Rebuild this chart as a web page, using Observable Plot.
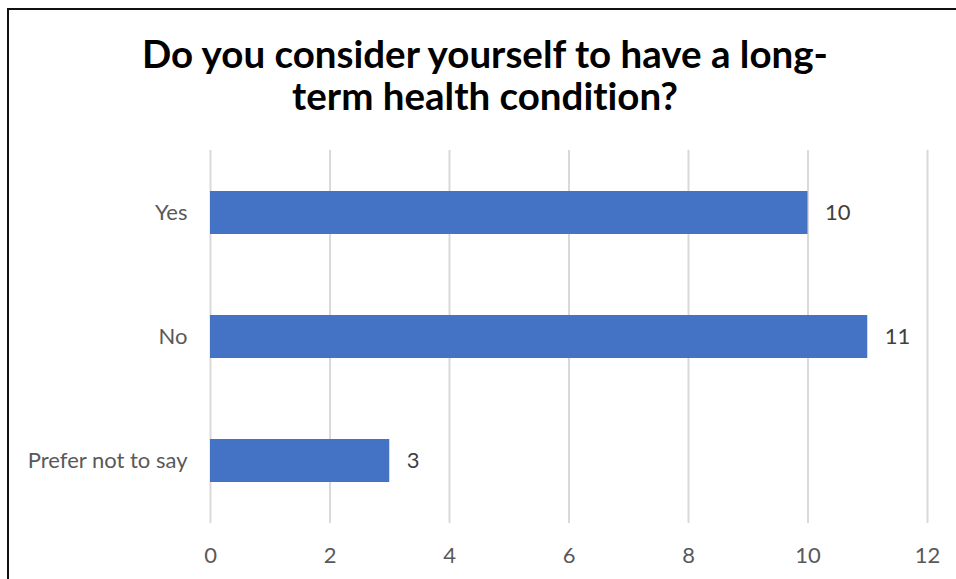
<!DOCTYPE html>
<html>
<head>
<meta charset="utf-8">
<script src="https://cdn.jsdelivr.net/npm/d3@7"></script>
<script src="https://cdn.jsdelivr.net/npm/@observablehq/plot@0.6"></script>
<style>
  html, body { margin: 0; padding: 0; background: #fff; overflow: hidden; }
  #wrap { position: relative; width: 956px; height: 579px; overflow: hidden; }
  #frame { position: absolute; left: 7px; top: 8px; width: 1000px; height: 700px;
           border-left: 2px solid #111; border-top: 2px solid #111; box-sizing: border-box; }
  #title { position: absolute; left: 0; top: 32px; width: 970px; text-align: center;
           font-family: Lato, "Open Sans", sans-serif; font-weight: bold; font-size: 38.5px;
           line-height: 42px; color: #000; font-variant-ligatures: none; }
  #chart { position: absolute; left: 0; top: 140px; }
</style>
</head>
<body>
<div id="wrap">
  <div id="frame"></div>
  <div id="title">Do you consider yourself to have a long-<br>term health condition?</div>
  <div id="chart"></div>
</div>
<script>
const categories = ["Yes", "No", "Prefer not to say"];
const counts = [10, 11, 3];
const xTicks = [0, 2, 4, 6, 8, 10, 12];

const data = categories.map((c, i) => ({category: c, value: counts[i]}));

const plot = Plot.plot({
  width: 956,
  height: 439,
  marginTop: 10,
  marginBottom: 56,
  marginLeft: 210,
  marginRight: 29,
  style: {fontFamily: "Lato, 'Open Sans', sans-serif", fontSize: "22px", color: "#595959", background: "transparent"},
  x: {domain: [0, 12], ticks: xTicks, label: null, tickSize: 0, tickPadding: 24},
  y: {domain: categories, label: null, tickSize: 0, tickPadding: 23, paddingInner: 0.65, paddingOuter: 0.325, align: 0.5},
  marks: [
    Plot.gridX(xTicks, {stroke: "#d9d9d9", strokeOpacity: 1, strokeWidth: 2}),
    Plot.barX(data, {x: "value", y: "category", fill: "#4472C4"}),
    Plot.text(data, {x: "value", y: "category", text: d => String(d.value), dx: 17, textAnchor: "start", fill: "#404040", fontSize: 22})
  ]
});
document.getElementById("chart").appendChild(plot);
</script>
</body>
</html>
